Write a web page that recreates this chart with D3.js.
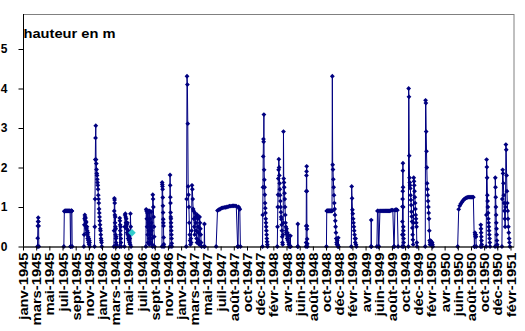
<!DOCTYPE html>
<html><head><meta charset="utf-8">
<script src="https://cdn.jsdelivr.net/npm/d3@7"></script>
<style>
body{margin:0;background:#fff}
svg{display:block}
text{font-family:"Liberation Sans",Arial,sans-serif;font-weight:bold;fill:#000}
</style>
</head><body>
<svg id="c" width="525" height="331"></svg>
<script>
// ---- data ----
const monthLabels = [
 "janv-1945","mars-1945","mai-1945","juil-1945","sept-1945","nov-1945",
 "janv-1946","mars-1946","mai-1946","juil-1946","sept-1946","nov-1946",
 "janv-1947","mars-1947","mai-1947","juil-1947","août-1947","oct-1947","déc-1947",
 "févr-1948","avr-1948","juin-1948","août-1948","oct-1948","déc-1948",
 "févr-1949","avr-1949","juin-1949","août-1949","oct-1949","déc-1949",
 "févr-1950","avr-1950","juin-1950","août-1950","oct-1950","déc-1950",
 "févr-1951"
];
const categoriesPerLabel = 10;      // category index step between two labels
const yTickValues = [0,1,2,3,4,5];
const yTitle = "hauteur en m";
// each burst: [first category index, last category index, heights (m)]
const bursts = [
 [11, 12, [0,0.21,0.52,0.63,0.73,0.63,0.52,0]],
 [31, 36.1, [0,0.89,0.9,0.9,0.9,0.9,0.9,0.9,0.9,0.9,0.9,0.9,0.9,0.9,0]],
 [36.3, 37.3, [0,0.9,0.9,0.9,0.9,0]],
 [46.2, 50.7, [0,0.3,0.55,0.7,0.8,0.75,0.65,0.72,0.6,0.5,0.62,0.45,0.35,0.5,0.4,0.3,0.2,0.35,0.25,0.15,0.1,0.2,0.05,0.15,0.1,0]],
 [54.3, 59.8, [0,0.5,1.2,2.2,2.75,3.06,2.2,2.1,1.95,1.85,1.8,1.7,1.62,1.55,1.45,1.3,1.2,1.1,0.95,0.85,0.75,0.65,0.55,0.45,0.4,0.3,0.2,0.15,0.1,0]],
 [69, 71, [0,0.4,0.9,1.22,1.18,1.1,0.8,0.6,0.75,0.5,0.3,0.45,0.2,0.1,0.25,0.05,0]],
 [73.3, 74.5, [0,0.72,0.65,0.55,0.4,0.3,0.5,0.2,0.1,0]],
 [77, 82, [0,0.5,0.8,0.83,0.75,0.6,0.7,0.45,0.55,0.35,0.6,0.3,0.2,0.4,0.25,0.15,0.3,0.1,0.2,0.05,0.83,0.5,0]],
 [93.3, 99.8, [0,0.94,0.9,0.7,0.5,0.85,0.3,0.1,0.9,0.6,0.4,0.2,0.05,0.9,0.7,0.5,0.3,0.1,0.88,0.6,0.4,0.2,0.05,0,1.31,1.2,1.0,0.75,0.5,0.25,0]],
 [105.5, 107, [0,1.62,1.57,1.52,1.45,1.24,1.03,0.86,0.69,0.6,0.52,0.23,0.06,0]],
 [111.5, 113, [0,1.81,1.55,1.25,1.1,0.86,0.75,0.7,0.6,0.5,0.4,0.3,0.2,0.08,0]],
 [123.9, 135.5, [0,1.2,4.31,4.10,3.11,1.52,1.31,1.0,0.6,0.3,0.15,0.05,0.2,0.1,0.4,1.55,1.45,1.2,0.95,0.9,0.7,0.5,0.3,0.85,0.75,0.6,0.4,0.2,0.1,0.8,0.7,0.5,0.35,0.15,0.05,0.75,0.6,0.45,0.3,0.1,0]],
 [137.5, 137.9, [0,0.57,0]],
 [146.6, 162.9, [0,0.91,0.93,0.95,0.97,0.98,0.99,0.99,1.0,1.01,1.02,1.02,1.03,1.03,1.03,1.02,0]],
 [163.2, 165, [0,1.0,0.97,0.94,0]],
 [181.8, 185.6, [0,0.8,1.5,2.28,2.72,2.65,3.34,1.94,1.69,1.5,1.31,1.1,0.97,0.85,0.7,0.6,0.5,0.4,0.3,0.2,0.12,0.05,0]],
 [193, 202, [0,0.5,1.0,1.31,1.72,1.94,2.21,2.0,1.8,1.6,1.45,1.3,1.15,1.0,0.87,0.75,0.69,0.55,0.4,0.25,0.1,0.05,0.3,0.6,2.91,1.72,1.62,1.5,1.35,1.2,1.0,0.8,0.6,0.5,0.4,0.35,0.45,0.3,0.2,0.35,0.25,0.15,0.3,0.2,0.1,0.05,0]],
 [202.9, 203.1, [0,0.27,0]],
 [208.5, 208.7, [0,0.57,0]],
 [214.8, 215.8, [0,0.1,0.52,1.4,1.8,1.9,2.03,1.4,0.52,0.44,0.19,0.07,0]],
 [230.3, 239.5, [0,0.9,0.9,0.9,0.9,0.9,0.9,0.9,0.9,0.9,0.9,0.9,0.9,0.9,0.9,0.9,0.9,0.9,4.31,2.07,1.95,1.7,1.5,1.3,1.1,0.95,0.8,0.65,0.5,0.35,0.2,0.1,0.05,0.15,0.05,0,0.22,0]],
 [249.2, 253, [0,1.52,1.22,0.93,0.83,0.7,0.6,0.5,0.4,0.3,0.2,0.1,0.2,0.05,0]],
 [264.2, 264.4, [0,0.67,0]],
 [268.6, 269.9, [0,0.9,0.9,0]],
 [270.1, 281.5, [0,0.9,0.9,0.9,0.9,0.9,0.9,0.9,0.9,0.9,0.9,0.91,0.92,0.92,0]],
 [281.7, 284.7, [0,0.92,0.93,0.93,0.92,0]],
 [287.8, 289, [0,0.3,0.63,1.01,1.2,1.4,1.92,2.11,1.5,1.0,0.5,0.4,0.3,0.2,0.1,0]],
 [292.5, 299.1, [0,4.0,3.79,2.3,1.74,1.62,1.55,1.47,1.3,1.18,1.05,0.88,0.76,0.63,0.47,0.3,0.17,0.05,0.6,1.74,1.65,1.55,1.4,1.25,1.1,0.95,0.8,0.7,0.6,0.5,0.1,0]],
 [305.3, 311, [0,3.70,3.63,2.91,2.41,2.0,1.6,1.45,1.3,1.15,1.0,0.85,0.7,0.4,0.15,0.05,0.1,0.15,0.05,0.12,0.08,0.03,0.1,0.05,0]],
 [329.9, 342.6, [0,0.94,1.03,1.08,1.12,1.16,1.19,1.21,1.23,1.24,1.25,1.25,1.25,1.25,1.25,1.25,0]],
 [342.8, 344, [0,0.35,0.3,0.25,0.3,0.25,0]],
 [347.3, 348.3, [0,0.55,0.45,0.35,0.25,0.15,0.05,0]],
 [351.5, 354.5, [0,0.8,2.2,2.01,1.74,1.3,1.15,1.0,0.85,0.7,0.6,0.5,0.4,0.3,0.2,0.1,0]],
 [358.3, 360, [0,1.74,1.5,1.25,1.0,0.8,0.6,0.45,0.3,0.15,0.05,0]],
 [363.5, 369.5, [0,1.2,1.94,1.85,1.6,1.3,1.1,0.9,0.7,0.5,1.0,2.58,2.45,1.8,1.4,1.1,0.9,0.7,0.5,0.35,0.2,0.1,0]]
];
// single highlighted observation (second series)
const highlightPoints = [[82.7, 0.35]];

// ---- layout ----
const plot = {left: 23, right: 514, top: 14, bottom: 246.5};
const lastIndex = (monthLabels.length - 1) * categoriesPerLabel;
const x = d3.scaleLinear().domain([0, lastIndex]).range([23, 510.5]);
const y = d3.scaleLinear().domain([0, 5]).range([246.5, 49]);
const svg = d3.select("#c");
const navy = "#000080";

// plot border
svg.append("rect").attr("x", plot.left + 0.5).attr("y", plot.top + 0.5)
  .attr("width", plot.right - plot.left - 0.5).attr("height", plot.bottom - plot.top)
  .attr("fill", "none").attr("stroke", "#808080").attr("stroke-width", 1);

// series points
const seriesPoints = bursts.map(([a, b, vals]) =>
  vals.map((v, i) => [a + (vals.length > 1 ? (b - a) * i / (vals.length - 1) : 0), v]));

const line = d3.line().x(d => x(d[0])).y(d => y(d[1]));
const gS = svg.append("g");
gS.selectAll("path.s").data(seriesPoints).join("path")
  .attr("class", "s").attr("d", line)
  .attr("fill", "none").attr("stroke", navy).attr("stroke-width", 1);

const diamond = r => `M0,${-r}L${r},0L0,${r}L${-r},0Z`;
gS.selectAll("path.m").data(seriesPoints.flat()).join("path")
  .attr("class", "m")
  .attr("transform", d => `translate(${x(d[0])},${y(d[1])})`)
  .attr("d", diamond(2.4)).attr("fill", navy);

svg.selectAll("path.h").data(highlightPoints).join("path")
  .attr("class", "h")
  .attr("transform", d => `translate(${x(d[0])},${y(d[1])})`)
  .attr("d", diamond(3.8)).attr("fill", "#33CCCC");

// y axis
const yAxis = svg.append("g").attr("transform", `translate(${plot.left + 0.5},0)`)
  .call(d3.axisLeft(y).tickValues(yTickValues).tickSize(5).tickSizeOuter(0).tickPadding(11).tickFormat(d3.format("d")));
yAxis.select(".domain").remove();
yAxis.attr("font-family", null);
yAxis.selectAll("line").attr("stroke", "#000");
yAxis.selectAll("text").attr("font-size", 12);
svg.append("line").attr("x1", plot.left + 0.5).attr("x2", plot.left + 0.5)
  .attr("y1", plot.top).attr("y2", plot.bottom).attr("stroke", "#000");

// x axis
const xAxis = svg.append("g").attr("transform", `translate(0,${plot.bottom})`)
  .call(d3.axisBottom(x).tickValues(d3.range(0, lastIndex + 1, categoriesPerLabel))
    .tickSize(4).tickSizeOuter(0).tickFormat((d, i) => monthLabels[i]));
xAxis.attr("font-family", null);
xAxis.select(".domain").attr("stroke", "#000").attr("d", `M${plot.left},0.5H${plot.right}`);
xAxis.selectAll("line").attr("stroke", "#000");
xAxis.selectAll("text")
  .attr("font-size", 12.5)
  .attr("x", 0).attr("y", 0).attr("dy", "0.36em")
  .attr("text-anchor", "end")
  .attr("transform", "translate(0,6) rotate(-90) scale(1.18,1)");

// axis title
svg.append("text").attr("x", plot.left + 0.5).attr("y", 38)
  .attr("font-size", 13.5).attr("textLength", 92).attr("lengthAdjust", "spacingAndGlyphs")
  .text(yTitle);
</script>
</body></html>
